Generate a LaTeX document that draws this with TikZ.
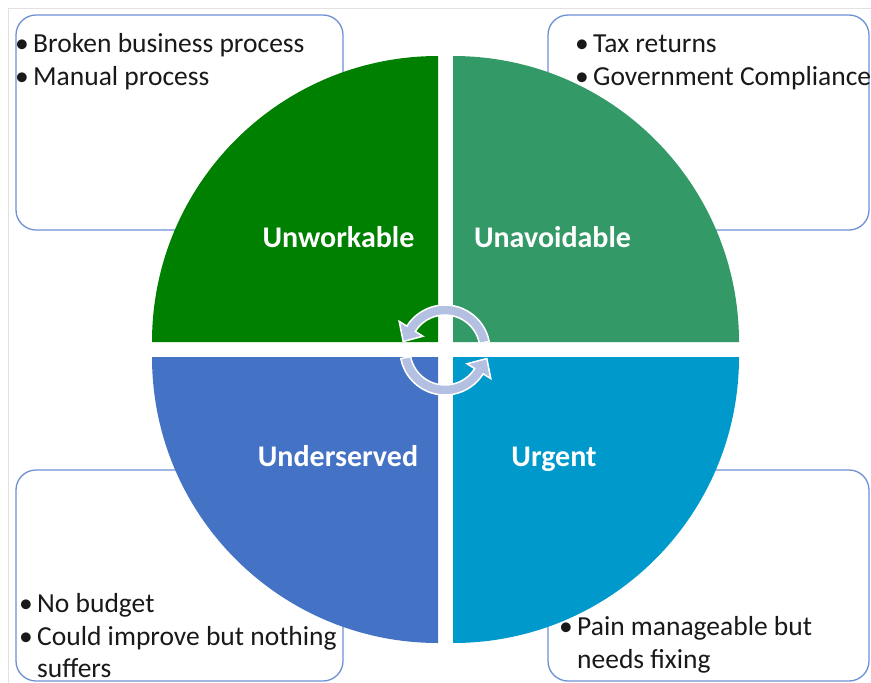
\documentclass[tikz,border=0pt]{standalone}
\usepackage{fontspec}
\setmainfont{Carlito}
\usetikzlibrary{calc}
\definecolor{qgreen}{RGB}{0,128,0}
\definecolor{qteal}{RGB}{51,153,102}
\definecolor{qblue}{RGB}{68,114,196}
\definecolor{qcyan}{RGB}{0,153,204}
\definecolor{boxline}{RGB}{110,145,212}
\definecolor{arrowfill}{RGB}{180,192,226}
\definecolor{framegray}{RGB}{225,225,225}
\begin{document}
\begin{tikzpicture}[x=1pt,y=-1pt,
  infobox/.style={draw=boxline,line width=1.3pt,fill=white,rounded corners=20pt},
  bul/.style={anchor=base west,inner sep=0pt,font=\fontsize{27.5}{33}\selectfont,text=black!90},
  itemtxt/.style={anchor=base west,inner sep=0pt,font=\fontsize{27.5}{33}\selectfont,text=black!90},
  qlabel/.style={anchor=base,inner sep=0pt,text=white,font=\fontsize{30}{36}\selectfont\bfseries},
  cyclearrow/.style={fill=arrowfill,draw=white,line width=1.5pt,line join=miter}]
\useasboundingbox (0,0) rectangle (871,683);
% frame
\draw[framegray,line width=1pt] (8,683) -- (8,8) -- (871,8);
% boxes
\draw[infobox] (16,15) rectangle (343,230);
\draw[infobox] (548,15) rectangle (869,230);
\draw[infobox] (16,470) rectangle (343,681);
\draw[infobox] (548,470) rectangle (869,681);
% quadrants
\fill[qgreen] (438,342) -- (152,342) arc[start angle=180,end angle=270,radius=286] -- cycle;
\fill[qteal] (453,342) -- (453,56) arc[start angle=270,end angle=360,radius=286] -- cycle;
\fill[qcyan] (453,357) -- (739,357) arc[start angle=0,end angle=90,radius=286] -- cycle;
\fill[qblue] (438,357) -- (438,643) arc[start angle=90,end angle=180,radius=286] -- cycle;
% labels
\node[qlabel] (lwork) at (338.5,247) {Unworkable};
\node[qlabel] (lavoid) at (552.5,247) {Unavoidable};
\node[qlabel] (lunder) at (338,466) {Underserved};
\node[qlabel] (lurg) at (554,466) {Urgent};
% cycle arrows
\coordinate (C) at (445,350);
\path[cyclearrow] ($(C)+(-11:45)$) arc[start angle=-11,end angle=-148,radius=45]
  -- ($(C)+(-148:54)$) -- ($(C)+(-148:40)+(-7.9,12.7)$) -- ($(C)+(-148:26)$)
  -- ($(C)+(-148:35)$) arc[start angle=-148,end angle=-11,radius=35] -- cycle;
\path[cyclearrow] ($(C)+(169:45)$) arc[start angle=169,end angle=32,radius=45]
  -- ($(C)+(32:54)$) -- ($(C)+(32:40)+(7.9,-12.7)$) -- ($(C)+(32:26)$)
  -- ($(C)+(32:35)$) arc[start angle=32,end angle=169,radius=35] -- cycle;
% texts TL
\node[bul] (b1) at (15,52) {•};
\node[itemtxt] (t1) at (33,52) {Broken business process};
\node[bul] (b2) at (15,85) {•};
\node[itemtxt] (t2) at (33,85) {Manual process};
% TR
\node[bul] (b3) at (575,52) {•};
\node[itemtxt] (t3) at (593,52) {Tax returns};
\node[bul] (b4) at (575,85) {•};
\node[itemtxt] (t4) at (593,85) {Government Compliance};
% BL
\node[bul] (b5) at (19,612) {•};
\node[itemtxt] (t5) at (37,612) {No budget};
\node[bul] (b6) at (19,645) {•};
\node[itemtxt] (t6) at (37,645) {Could improve but nothing};
\node[itemtxt] (t7) at (37,677) {suffers};
% BR
\node[bul] (b7) at (559,635) {•};
\node[itemtxt] (t8) at (577,635) {Pain manageable but};
\node[itemtxt] (t9) at (577,668) {needs fixing};
\end{tikzpicture}
\end{document}
